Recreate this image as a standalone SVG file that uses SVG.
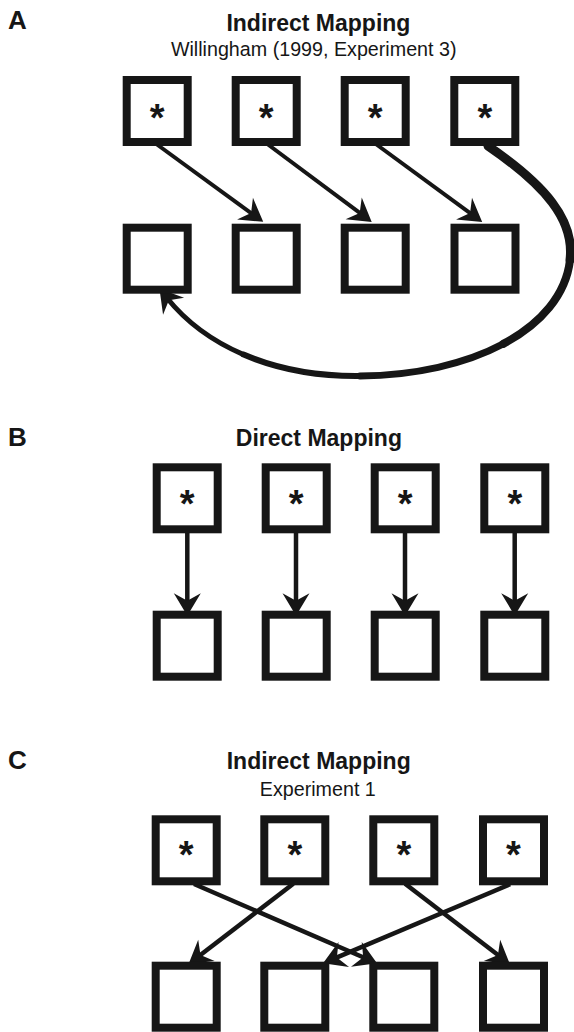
<svg xmlns="http://www.w3.org/2000/svg" width="574" height="1032" viewBox="0 0 574 1032">
<style>
  .box { fill: #fff; stroke: #161616; stroke-width: 8; }
  .star { font-family: "Liberation Sans", Arial, sans-serif; font-weight: bold; font-size: 38px; text-anchor: middle; fill: #161616; }
  .lbl { font-family: "Liberation Sans", Arial, sans-serif; font-weight: bold; font-size: 26px; fill: #161616; }
  .ttl { font-family: "Liberation Sans", Arial, sans-serif; font-weight: bold; font-size: 23px; text-anchor: middle; fill: #161616; }
  .sub { font-family: "Liberation Sans", Arial, sans-serif; font-size: 19.7px; text-anchor: middle; fill: #161616; }
  .ln { fill: none; stroke: #161616; stroke-width: 4.5; marker-end: url(#ah); }
  .lnA { stroke-width: 4; }
  .crv { fill: none; stroke: #161616; stroke-linecap: round; }
</style>
<defs>
  <marker id="ah" markerUnits="userSpaceOnUse" markerWidth="30" markerHeight="30" refX="0" refY="0" orient="auto" overflow="visible" viewBox="-10 -10 20 20">
    <path d="M8,0 L-7,-9 L-2,0 L-7,9 Z" fill="#161616"/>
  </marker>
</defs>

<g id="labels">
  <text class="lbl" x="8" y="29">A</text>
  <text class="ttl" x="318.4" y="30.7">Indirect Mapping</text>
  <text class="sub" x="313.7" y="56">Willingham (1999, Experiment 3)</text>
  <text class="lbl" x="8" y="445.7">B</text>
  <text class="ttl" x="318.9" y="445.7">Direct Mapping</text>
  <text class="lbl" x="8" y="769">C</text>
  <text class="ttl" x="318.7" y="769">Indirect Mapping</text>
  <text class="sub" x="317.8" y="796">Experiment 1</text>
</g>

<g id="connectors">
  <!-- Panel A -->
  <line class="ln lnA" x1="157" y1="144.5" x2="253.5" y2="214.8"/>
  <line class="ln lnA" x1="268" y1="144.5" x2="362.1" y2="214.7"/>
  <line class="ln lnA" x1="376.5" y1="144.5" x2="472.5" y2="214.8"/>
  <path class="crv" stroke-width="9" d="M488,146 C545,185 575,220 570,260"/>
  <path class="crv" stroke-width="8" d="M570,260 C566,295 541,323.75 503.25,343.9"/>
  <path class="crv" stroke-width="7" d="M503.25,343.9 C465.5,364 415,375.5 360,376"/>
  <path class="crv" stroke-width="6" d="M360,376 C315,376.5 276,368.5 243.6,354.6"/>
  <path class="crv" stroke-width="5" d="M243.6,354.6 C211.25,340.75 185.5,321 167,298" style="stroke-linecap:butt" marker-end="url(#ah)"/>
  <!-- Panel B -->
  <line class="ln" x1="187.3" y1="531" x2="187.3" y2="603.7"/>
  <line class="ln" x1="296" y1="531" x2="296" y2="603.7"/>
  <line class="ln" x1="405" y1="531" x2="405" y2="603.7"/>
  <line class="ln" x1="514.7" y1="531" x2="514.7" y2="603.7"/>
  <!-- Panel C -->
  <line class="ln" x1="194" y1="884" x2="366" y2="958.5"/>
  <line class="ln" x1="293.3" y1="883.8" x2="198.1" y2="956.8"/>
  <line class="ln" x1="405.1" y1="883.8" x2="500.3" y2="956.8"/>
  <line class="ln" x1="510.1" y1="884.2" x2="334.1" y2="958.6"/>
</g>

<!-- Panel A nodes -->
<g id="A-top-1"><rect class="box" x="126.7" y="80" width="61" height="62"/><text class="star" x="157.2" y="130.5">*</text></g>
<g id="A-top-2"><rect class="box" x="235.7" y="80" width="61" height="62"/><text class="star" x="266.2" y="130.5">*</text></g>
<g id="A-top-3"><rect class="box" x="344.7" y="80" width="61" height="62"/><text class="star" x="375.2" y="130.5">*</text></g>
<g id="A-top-4"><rect class="box" x="454.3" y="80" width="61" height="62"/><text class="star" x="484.8" y="130.5">*</text></g>
<g id="A-bot-1"><rect class="box" x="126.7" y="227.7" width="61" height="62"/></g>
<g id="A-bot-2"><rect class="box" x="235.7" y="227.7" width="61" height="62"/></g>
<g id="A-bot-3"><rect class="box" x="344.7" y="227.7" width="61" height="62"/></g>
<g id="A-bot-4"><rect class="box" x="454.5" y="227.7" width="61" height="62"/></g>

<!-- Panel B nodes -->
<g id="B-top-1"><rect class="box" x="156.7" y="467.3" width="61" height="62"/><text class="star" x="187.2" y="516.8">*</text></g>
<g id="B-top-2"><rect class="box" x="265.7" y="467.3" width="61" height="62"/><text class="star" x="296.2" y="516.8">*</text></g>
<g id="B-top-3"><rect class="box" x="374.7" y="467.3" width="61" height="62"/><text class="star" x="405.2" y="516.8">*</text></g>
<g id="B-top-4"><rect class="box" x="484.3" y="467.3" width="61" height="62"/><text class="star" x="514.8" y="516.8">*</text></g>
<g id="B-bot-1"><rect class="box" x="156.7" y="614.7" width="61" height="62"/></g>
<g id="B-bot-2"><rect class="box" x="265.7" y="614.7" width="61" height="62"/></g>
<g id="B-bot-3"><rect class="box" x="374.7" y="614.7" width="61" height="62"/></g>
<g id="B-bot-4"><rect class="box" x="484.3" y="614.7" width="61" height="62"/></g>

<!-- Panel C nodes -->
<g id="C-top-1"><rect class="box" x="155.7" y="819.3" width="61" height="62"/><text class="star" x="186.2" y="867.5">*</text></g>
<g id="C-top-2"><rect class="box" x="264.3" y="819.3" width="61" height="62"/><text class="star" x="294.8" y="867.5">*</text></g>
<g id="C-top-3"><rect class="box" x="373.3" y="819.3" width="61" height="62"/><text class="star" x="403.8" y="867.5">*</text></g>
<g id="C-top-4"><rect class="box" x="483" y="819.3" width="61" height="62"/><text class="star" x="513.5" y="867.5">*</text></g>
<g id="C-bot-1"><rect class="box" x="155.7" y="965.7" width="61" height="62"/></g>
<g id="C-bot-2"><rect class="box" x="264.3" y="965.7" width="61" height="62"/></g>
<g id="C-bot-3"><rect class="box" x="373.3" y="965.7" width="61" height="62"/></g>
<g id="C-bot-4"><rect class="box" x="483" y="965.7" width="61" height="62"/></g>
</svg>
